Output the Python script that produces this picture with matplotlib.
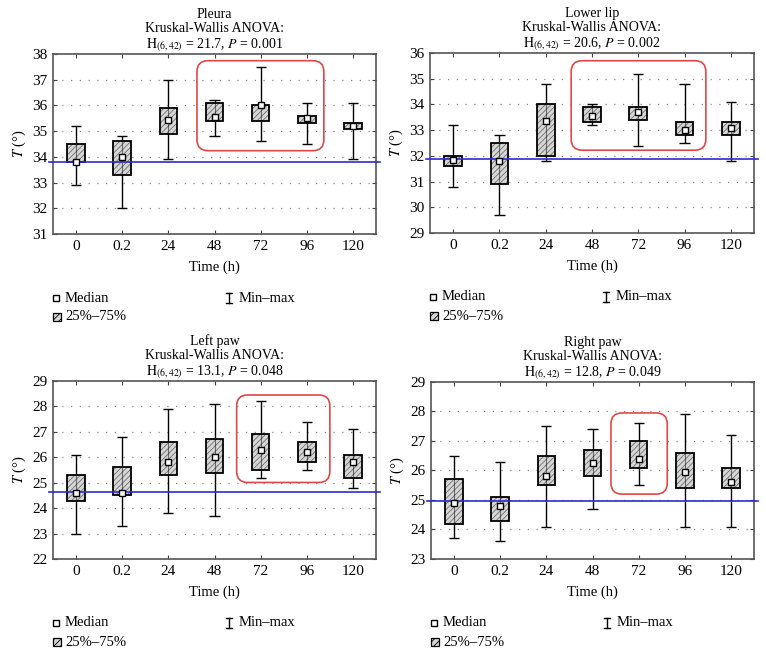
import matplotlib
matplotlib.use("Agg")
import matplotlib.pyplot as plt
from matplotlib.patches import FancyBboxPatch, Rectangle
from matplotlib.lines import Line2D
import numpy as np

plt.rcParams['font.family'] = ['Liberation Serif', 'DejaVu Serif']
plt.rcParams['mathtext.fontset'] = 'stix'
plt.rcParams['hatch.linewidth'] = 0.6

# categorias do eixo x
time_labels = ["0", "0.2", "24", "48", "72", "96", "120"]

# Pleura
pleura_min = [32.9, 32.0, 33.9, 34.8, 34.6, 34.5, 33.9]
pleura_q1 = [33.8, 33.3, 34.9, 35.4, 35.4, 35.3, 35.1]
pleura_med = [33.8, 34.0, 35.45, 35.55, 36.0, 35.5, 35.2]
pleura_q3 = [34.5, 34.6, 35.9, 36.1, 36.0, 35.6, 35.3]
pleura_max = [35.2, 34.8, 37.0, 36.2, 37.5, 36.1, 36.1]
pleura_ref = 33.8

# Lower lip
lip_min = [30.8, 29.7, 31.8, 33.2, 32.4, 32.5, 31.8]
lip_q1 = [31.6, 30.9, 32.0, 33.3, 33.4, 32.8, 32.8]
lip_med = [31.85, 31.8, 33.35, 33.55, 33.7, 33.0, 33.1]
lip_q3 = [32.0, 32.5, 34.0, 33.9, 33.9, 33.3, 33.3]
lip_max = [33.2, 32.8, 34.8, 34.0, 35.2, 34.8, 34.1]
lip_ref = 31.88

# Left paw
lpaw_min = [23.0, 23.3, 23.8, 23.7, 25.2, 25.5, 24.8]
lpaw_q1 = [24.3, 24.5, 25.3, 25.4, 25.5, 25.8, 25.2]
lpaw_med = [24.6, 24.6, 25.8, 26.0, 26.3, 26.2, 25.8]
lpaw_q3 = [25.3, 25.6, 26.6, 26.7, 26.9, 26.6, 26.1]
lpaw_max = [26.1, 26.8, 27.9, 28.1, 28.2, 27.4, 27.1]
lpaw_ref = 24.63

# Right paw
rpaw_min = [23.7, 23.6, 24.1, 24.7, 25.5, 24.1, 24.1]
rpaw_q1 = [24.2, 24.3, 25.5, 25.8, 26.1, 25.4, 25.4]
rpaw_med = [24.9, 24.8, 25.8, 26.25, 26.4, 25.95, 25.6]
rpaw_q3 = [25.7, 25.1, 26.5, 26.7, 27.0, 26.6, 26.1]
rpaw_max = [26.5, 26.3, 27.5, 27.4, 27.6, 27.9, 27.2]
rpaw_ref = 24.95

W, H = 766, 653
fig = plt.figure(figsize=(W / 100, H / 100), dpi=100)

# (nome, estatistica, dados, ylim, caixa vermelha (x0, x1, y0, y1), posicao em px)
paineis = [
    ("Pleura", r"$\mathrm{H}_{(6,42)}$ = 21.7, $P$ = 0.001",
     (pleura_min, pleura_q1, pleura_med, pleura_q3, pleura_max), pleura_ref,
     (31, 38), (2.62, 5.37, 34.24, 37.74), (53, 54, 376, 234)),
    ("Lower lip", r"$\mathrm{H}_{(6,42)}$ = 20.6, $P$ = 0.002",
     (lip_min, lip_q1, lip_med, lip_q3, lip_max), lip_ref,
     (29, 36), (2.55, 5.46, 32.22, 35.7), (430, 53, 754, 233)),
    ("Left paw", r"$\mathrm{H}_{(6,42)}$ = 13.1, $P$ = 0.048",
     (lpaw_min, lpaw_q1, lpaw_med, lpaw_q3, lpaw_max), lpaw_ref,
     (22, 29), (3.48, 5.5, 25.01, 28.45), (53, 381, 376, 559)),
    ("Right paw", r"$\mathrm{H}_{(6,42)}$ = 12.8, $P$ = 0.049",
     (rpaw_min, rpaw_q1, rpaw_med, rpaw_q3, rpaw_max), rpaw_ref,
     (23, 29), (3.40, 4.62, 25.2, 27.95), (431, 382, 754, 559)),
]

x = np.arange(len(time_labels))
box_w = 0.38
cap_w = 0.22
fs = 10.5

for nome, stat, (vmin, q1, med, q3, vmax), ref, ylim, hl, (l, t, r, b) in paineis:
    ax = fig.add_axes([l / W, 1 - b / H, (r - l) / W, (b - t) / H])
    q1 = np.array(q1); q3 = np.array(q3)

    ax.vlines(x, vmin, vmax, color='black', lw=1.0, zorder=2)
    ax.hlines(vmin, x - cap_w / 2, x + cap_w / 2, color='black', lw=1.0, zorder=2)
    ax.hlines(vmax, x - cap_w / 2, x + cap_w / 2, color='black', lw=1.0, zorder=2)
    ax.bar(x, q3 - q1, bottom=q1, width=box_w, color='#d6d6d6',
           edgecolor='#707070', hatch='//////', lw=0, zorder=3)
    ax.bar(x, q3 - q1, bottom=q1, width=box_w, fill=False,
           edgecolor='black', lw=1.3, zorder=4)
    ax.vlines(x, q1, q3, color='black', lw=0.8, alpha=0.5, zorder=4)
    ax.plot(x, med, 's', ms=5, mfc='white', mec='black', mew=1.0, zorder=6)

    ax.axhline(ref, xmin=-0.012, xmax=1.012, color='#2b2bd0', lw=1.2,
               clip_on=False, zorder=5)

    ax.set_xlim(-0.5, 6.5)
    ax.set_ylim(*ylim)

    # caixa vermelha arredondada
    px_x = (r - l) / 7.0
    px_y = (b - t) / (ylim[1] - ylim[0])
    raio = 11 / px_x
    caixa = FancyBboxPatch((hl[0], hl[2]), hl[1] - hl[0], hl[3] - hl[2],
                           boxstyle=f"round,pad=0,rounding_size={raio}",
                           mutation_aspect=px_x / px_y,
                           fill=False, edgecolor='#e04848', lw=1.2, zorder=7)
    ax.add_patch(caixa)

    ax.set_xticks(x)
    ax.set_xticklabels(time_labels)
    ax.set_yticks(np.arange(ylim[0], ylim[1] + 1))
    for yv in range(ylim[0] + 1, ylim[1]):
        ax.axhline(yv, color='#8a8a8a', lw=0.9, ls=(0, (1, 6)), zorder=1)
    ax.tick_params(direction='in', length=3, top=True, right=True,
                   labelsize=fs + 0.5, color='#444444', pad=4)
    for s in ax.spines.values():
        s.set_color('#555555')
        s.set_linewidth(1.2)

    ax.set_xlabel("Time (h)", fontsize=fs, labelpad=6)
    ax.set_ylabel(r"$T$ (°)", fontsize=fs, labelpad=3)
    ax.set_title(f"{nome}\nKruskal-Wallis ANOVA:\n{stat}", fontsize=10,
                 linespacing=1.1, pad=4)

    # legenda manual abaixo do painel
    ly1 = b + 64
    ly2 = b + 83
    fig.add_artist(Line2D([(l + 3) / W], [1 - ly1 / H], marker='s', ms=5,
                          mfc='white', mec='black', mew=1.0,
                          transform=fig.transFigure))
    fig.text((l + 12) / W, 1 - ly1 / H, "Median", fontsize=fs, va='center')
    fig.add_artist(Rectangle(((l) / W, 1 - (ly2 + 4) / H), 8 / W, 8 / H,
                             facecolor='#d6d6d6', edgecolor='black', lw=0.9,
                             hatch='/////', transform=fig.transFigure))
    fig.text((l + 12) / W, 1 - ly2 / H, "25%–75%", fontsize=fs, va='center')
    mx = l + 176
    fig.add_artist(Line2D([mx / W, mx / W], [1 - (ly1 - 5) / H, 1 - (ly1 + 5) / H],
                          color='black', lw=1.0, transform=fig.transFigure))
    for yy in (ly1 - 5, ly1 + 5):
        fig.add_artist(Line2D([(mx - 3) / W, (mx + 3) / W], [1 - yy / H, 1 - yy / H],
                              color='black', lw=1.0, transform=fig.transFigure))
    fig.text((mx + 10) / W, 1 - ly1 / H, "Min–max", fontsize=fs, va='center')

fig.savefig("out.png", dpi=100)
